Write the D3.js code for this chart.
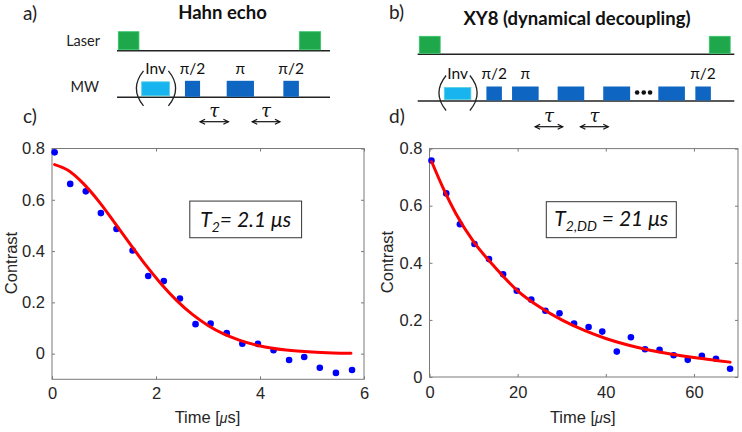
<!DOCTYPE html>
<html><head><meta charset="utf-8">
<script src="https://cdn.jsdelivr.net/npm/d3@7"></script>
<style>body{margin:0;background:#fff}svg{display:block}</style>
</head><body><svg id="chart" width="742" height="432"></svg>
<script>
// ---------- DATA ----------
const hahnTime = [0.05,0.35,0.65,0.94,1.24,1.55,1.85,2.15,2.46,2.76,3.05,3.36,3.66,3.96,4.26,4.56,4.85,5.15,5.46,5.77];
const hahnContrast = [0.785,0.662,0.633,0.548,0.486,0.402,0.303,0.283,0.215,0.115,0.117,0.080,0.039,0.038,0.013,-0.025,-0.013,-0.055,-0.075,-0.064];
const hahnFitTime = [0.05,0.3,0.6,0.9,1.2,1.5,1.8,2.1,2.4,2.7,3.0,3.3,3.6,4.0,4.5,5.0,5.4,5.75];
const hahnFitContrast = [0.737,0.716,0.664,0.594,0.512,0.428,0.346,0.272,0.207,0.153,0.110,0.077,0.053,0.030,0.014,0.006,0.003,0.002];
const xy8Time = [0.45,3.8,6.9,10.2,13.5,16.7,19.8,23.1,26.3,29.5,32.8,36.1,39.2,42.5,45.7,48.9,52.2,55.4,58.6,61.8,65.0,68.2];
const xy8Contrast = [0.758,0.643,0.535,0.466,0.413,0.360,0.302,0.271,0.232,0.223,0.187,0.175,0.159,0.089,0.139,0.097,0.095,0.076,0.060,0.074,0.064,0.029];
const xy8FitTime = [0.5,3,6,10,15,20,25,30,35,40,45,50,55,60,65,68.2];
const xy8FitContrast = [0.754,0.665,0.572,0.474,0.382,0.302,0.245,0.200,0.164,0.135,0.112,0.094,0.080,0.068,0.058,0.052];
const hahnXTicks = [0,2,4,6];
const hahnYTicks = [0,0.2,0.4,0.6,0.8];
const xy8XTicks = [0,20,40,60];
const xy8YTicks = [0,0.2,0.4,0.6,0.8];

// pulse sequences (arbitrary time units 0..100 along each sequence line)
const hahnLaser = [[0.6,10.3],[85.6,95.6]];
const hahnMWStart = [11.6,31.9,51.5,78.1];
const hahnMWEnd   = [24.6,39.0,64.3,85.4];
const hahnMWLabel = ["Inv","π/2","π","π/2"];
const hahnTau = [[39,52.3],[63.5,76.5]];

const xy8Laser = [[0.5,7.1],[92.1,98.7]];
const xy8MWStart = [8.4,21.7,29.8,44.2,58.6,76.0,87.7];
const xy8MWEnd   = [16.8,26.6,38.2,52.6,67.1,84.4,92.6];
const xy8MWLabel = ["Inv","π/2","π","","","","π/2"];
const xy8Dots = [69.3,71.4,73.4];
const xy8Tau = [[37.1,45.8],[51.4,60.2]];

// ---------- STYLE ----------
const axisColor = "#7a7a7a";
const tickText = "#262626";
const sansAx = "'Liberation Sans', Arial, sans-serif";
const sansDiag = "Lato, 'Open Sans', sans-serif";
const green = "#1fa84b", lightBlue = "#18b4f0", darkBlue = "#0f66c2";

const svg = d3.select("#chart");
svg.append("rect").attr("width",742).attr("height",432).attr("fill","#fff");

// ---------- PLOTS ----------
function drawPlot(o){
  const g = svg.append("g");
  const x = d3.scaleLinear().domain(o.xDomain).range(o.xRange);
  const y = d3.scaleLinear().domain(o.yDomain).range(o.yRange);
  const fmt = d3.format("~g");
  const styleAxis = sel => {
    sel.select(".domain").remove();
    sel.selectAll(".tick line").attr("stroke",axisColor);
    sel.selectAll(".tick text").attr("fill",tickText).style("font-family",sansAx).style("font-size","16.5px");
  };
  g.append("g").attr("transform",`translate(0,${o.yRange[0]})`)
    .call(d3.axisBottom(x).tickValues(o.xTicks).tickSizeInner(-3).tickSizeOuter(0).tickPadding(o.xPad).tickFormat(fmt)).call(styleAxis);
  g.append("g").attr("transform",`translate(0,${o.yRange[1]})`)
    .call(d3.axisTop(x).tickValues(o.xTicks).tickSizeInner(-3).tickSizeOuter(0).tickFormat("")).call(styleAxis);
  g.append("g").attr("transform",`translate(${o.xRange[0]},0)`)
    .call(d3.axisLeft(y).tickValues(o.yTicks).tickSizeInner(-3).tickSizeOuter(0).tickPadding(7).tickFormat(fmt)).call(styleAxis);
  g.append("g").attr("transform",`translate(${o.xRange[1]},0)`)
    .call(d3.axisRight(y).tickValues(o.yTicks).tickSizeInner(-3).tickSizeOuter(0).tickFormat("")).call(styleAxis);
  g.append("rect").attr("x",o.xRange[0]).attr("y",o.yRange[1])
    .attr("width",o.xRange[1]-o.xRange[0]).attr("height",o.yRange[0]-o.yRange[1])
    .attr("fill","none").attr("stroke",axisColor).attr("stroke-width",1);

  // data points
  g.append("g").selectAll("circle").data(o.t.map((t,i)=>[t,o.v[i]])).join("circle")
    .attr("cx",d=>x(d[0])).attr("cy",d=>y(d[1])).attr("r",3.3).attr("fill","#0000ff");
  // fit
  g.append("path").datum(o.ft.map((t,i)=>[t,o.fv[i]]))
    .attr("d",d3.line().x(d=>x(d[0])).y(d=>y(d[1])).curve(d3.curveMonotoneX))
    .attr("fill","none").attr("stroke","#ff0000").attr("stroke-width",3).attr("stroke-linecap","round");

  // axis labels
  const xm = (o.xRange[0]+o.xRange[1])/2;
  const xl = g.append("text").attr("x",xm + o.xLabelShift).attr("y",423).attr("text-anchor","middle")
    .style("font-family",sansAx).style("font-size","16.5px").attr("fill",tickText);
  xl.append("tspan").text("Time [");
  xl.append("tspan").text("μ").style("font-style","italic").style("font-size","14px");
  xl.append("tspan").text("s]");
  g.append("text").attr("transform",`translate(${o.yLabelX},${o.yLabelY}) rotate(-90)`).attr("text-anchor","middle")
    .style("font-family",sansAx).style("font-size","16.5px").attr("fill",tickText).text("Contrast");

  // annotation box
  const b = o.box;
  g.append("rect").attr("x",x(b.t0)).attr("y",y(b.v0)).attr("width",x(b.t1)-x(b.t0)).attr("height",y(b.v1)-y(b.v0))
    .attr("fill","#fff").attr("stroke","#333").attr("stroke-width",1);
  const tx = g.append("text").attr("x",(x(b.t0)+x(b.t1))/2).attr("y",y(b.vText)).attr("text-anchor","middle")
    .style("font-family",sansDiag).style("font-style","italic").style("font-size","21px").attr("fill","#111");
  tx.append("tspan").text("T");
  tx.append("tspan").text(b.sub).style("font-size","14px").attr("dy",5);
  tx.append("tspan").text(b.rest).attr("dy",-5);
}

drawPlot({xDomain:[0,6],xRange:[52,364],yDomain:[-0.1,0.8],yRange:[379.3,148.5],
  xTicks:hahnXTicks,yTicks:hahnYTicks,t:hahnTime,v:hahnContrast,ft:hahnFitTime,fv:hahnFitContrast,
  xPad:8,xLabelShift:-0.5,yLabelX:16.5,yLabelY:263,
  box:{t0:2.65,t1:4.8,v0:0.595,v1:0.452,vText:0.493,sub:"2",rest:"= 2.1 μs"}});
drawPlot({xDomain:[0,70],xRange:[429.5,738],yDomain:[0,0.8],yRange:[377,148.6],
  xTicks:xy8XTicks,yTicks:xy8YTicks,t:xy8Time,v:xy8Contrast,ft:xy8FitTime,fv:xy8FitContrast,
  xPad:9,xLabelShift:-1,yLabelX:392.5,yLabelY:262,
  box:{t0:26.5,t1:56.0,v0:0.614,v1:0.488,vText:0.53,sub:"2,DD",rest:" = 21 μs"}});

// ---------- PULSE DIAGRAMS ----------
function drawSeq(o){
  const g = svg.append("g");
  const x = d3.scaleLinear().domain([0,100]).range(o.range);
  [o.laserY,o.mwY].forEach(yy=>g.append("line").attr("x1",o.range[0]).attr("x2",o.range[1])
    .attr("y1",yy).attr("y2",yy).attr("stroke","#222").attr("stroke-width",1.5));
  g.selectAll("rect.laser").data(o.laser).join("rect").attr("class","laser")
    .attr("x",d=>x(d[0])).attr("width",d=>x(d[1])-x(d[0]))
    .attr("y",o.laserY-1-o.laserH).attr("height",o.laserH)
    .attr("fill",green).attr("stroke","#35c56a").attr("stroke-width",0.8);
  const mw = o.mwS.map((s,i)=>({s,e:o.mwE[i],label:o.mwL[i],inv:i===0}));
  g.selectAll("rect.mw").data(mw).join("rect").attr("class","mw")
    .attr("x",d=>x(d.s)).attr("width",d=>x(d.e)-x(d.s))
    .attr("y",d=>d.inv? o.mwY-1.5-o.mwH+2 : o.mwY-0.5-o.mwH).attr("height",d=>d.inv? o.mwH-2 : o.mwH)
    .attr("fill",d=>d.inv?lightBlue:darkBlue).attr("stroke",d=>d.inv?"#55cfe0":"none").attr("stroke-width",0.8);
  g.selectAll("text.lab").data(mw.filter(d=>d.label)).join("text").attr("class","lab")
    .attr("x",d=>(x(d.s)+x(d.e))/2).attr("y",o.mwY-o.mwH-o.labelGap).attr("text-anchor","middle")
    .style("font-family",sansDiag).style("font-size","15.5px").attr("fill","#111").text(d=>d.label);
  const inv = mw[0], cy = o.mwY-1-o.mwH/2, h = 17.5;
  const xl = x(inv.s), xr = x(inv.e);
  g.append("path").attr("d",`M${xl+1.8},${cy-h} Q${xl-12.5},${cy} ${xl+1.8},${cy+h}`).attr("fill","none").attr("stroke","#222").attr("stroke-width",1.3);
  g.append("path").attr("d",`M${xr-1},${cy-h} Q${xr+13.5},${cy} ${xr-1},${cy+h}`).attr("fill","none").attr("stroke","#222").attr("stroke-width",1.3);
  if(o.dots) g.selectAll("circle.dot").data(o.dots).join("circle").attr("class","dot")
    .attr("cx",d=>x(d)).attr("cy",o.mwY-o.mwH/2-1.5).attr("r",2.3).attr("fill","#111");
  o.tau.forEach(d=>{
    const a = x(d[0]), b = x(d[1]), yy = o.tauY;
    g.append("line").attr("x1",a).attr("x2",b).attr("y1",yy).attr("y2",yy).attr("stroke","#111").attr("stroke-width",1.2);
    g.append("path").attr("d",`M${a+5},${yy-2.5} L${a},${yy} L${a+5},${yy+2.5}`).attr("fill","none").attr("stroke","#111").attr("stroke-width",1.2);
    g.append("path").attr("d",`M${b-5},${yy-2.5} L${b},${yy} L${b-5},${yy+2.5}`).attr("fill","none").attr("stroke","#111").attr("stroke-width",1.2);
    g.append("text").attr("x",(a+b)/2).attr("y",yy-4.5).attr("text-anchor","middle")
      .style("font-family","'DejaVu Serif', serif").style("font-style","italic").style("font-size","18px").attr("fill","#111").text("τ");
  });
}

drawSeq({range:[117,330],laserY:50.7,mwY:97.3,laserH:18,mwH:16,labelGap:7,tauY:121.7,
  laser:hahnLaser,mwS:hahnMWStart,mwE:hahnMWEnd,mwL:hahnMWLabel,tau:hahnTau});
drawSeq({range:[417.7,734.3],laserY:54.3,mwY:101,laserH:17,mwH:14,labelGap:8.5,tauY:126.7,
  laser:xy8Laser,mwS:xy8MWStart,mwE:xy8MWEnd,mwL:xy8MWLabel,dots:xy8Dots,tau:xy8Tau});

svg.append("text").attr("x",100).attr("y",46).attr("text-anchor","end").style("font-family",sansDiag).style("font-size","14.5px").attr("fill","#222").text("Laser");
svg.append("text").attr("x",99).attr("y",92).attr("text-anchor","end").style("font-family",sansDiag).style("font-size","14.5px").attr("fill","#222").text("MW");

svg.append("text").attr("x",222.5).attr("y",18.5).attr("text-anchor","middle").style("font-family",sansDiag).style("font-weight","bold").style("font-size","18.5px").attr("fill","#111").text("Hahn echo");
svg.append("text").attr("x",577).attr("y",25).attr("text-anchor","middle").style("font-family",sansDiag).style("font-weight","bold").style("font-size","18.5px").attr("fill","#111").text("XY8 (dynamical decoupling)");

[["a)",23,19.5],["b)",389,19],["c)",23,123],["d)",389,123]].forEach(d=>
  svg.append("text").attr("x",d[1]).attr("y",d[2]).style("font-family",sansDiag).style("font-size","19px").attr("fill","#222").text(d[0]));
</script></body></html>
